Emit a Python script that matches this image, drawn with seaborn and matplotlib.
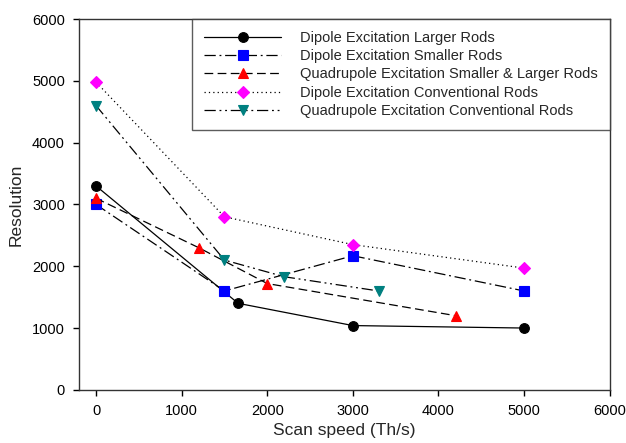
import matplotlib
matplotlib.use("Agg")
import matplotlib.pyplot as plt
import seaborn as sns
import pandas as pd

sns.set_style("ticks")
plt.rcParams['font.family'] = ['Liberation Sans', 'DejaVu Sans']

labels = [
    "Dipole Excitation Larger Rods",
    "Dipole Excitation Smaller Rods",
    "Quadrupole Excitation Smaller & Larger Rods",
    "Dipole Excitation Conventional Rods",
    "Quadrupole Excitation Conventional Rods",
]
x_dip_large = [0, 1660, 3000, 5000]
y_dip_large = [3300, 1400, 1040, 1000]
x_dip_small = [0, 1500, 3000, 5000]
y_dip_small = [3000, 1600, 2170, 1600]
x_quad_sl = [0, 1200, 2000, 4200]
y_quad_sl = [3100, 2300, 1720, 1200]
x_dip_conv = [0, 1500, 3000, 5000]
y_dip_conv = [4980, 2800, 2350, 1970]
x_quad_conv = [0, 1500, 2200, 3300]
y_quad_conv = [4600, 2100, 1830, 1600]

series_x = [x_dip_large, x_dip_small, x_quad_sl, x_dip_conv, x_quad_conv]
series_y = [y_dip_large, y_dip_small, y_quad_sl, y_dip_conv, y_quad_conv]
colors = ["#000000", "#0000FF", "#FF0000", "#FF00FF", "#008080"]
markers = ["o", "s", "^", "D", "v"]
msizes = [7, 6.5, 7, 6, 7]
styles = ["-", (0, (9, 3, 1.5, 3)), (0, (7, 3.5)), (0, (1, 2.5)), (0, (9, 3, 1.5, 3, 1.5, 3))]

fig = plt.figure(figsize=(6.26, 4.43), dpi=100)
ax = fig.add_axes([0.126, 0.12, 0.848, 0.837])

for xs, ys, c, m, ms, ls, lab in zip(series_x, series_y, colors, markers, msizes, styles, labels):
    df = pd.DataFrame({"x": xs, "y": ys})
    sns.lineplot(data=df, x="x", y="y", ax=ax, color="black", linestyle=ls, linewidth=0.9,
                 marker=m, markersize=ms, markerfacecolor=c, markeredgecolor=c,
                 markeredgewidth=0.8, label=lab, sort=False, estimator=None)

ax.set_xlim(-200, 6000)
ax.set_ylim(0, 6000)
ax.set_xticks([0, 1000, 2000, 3000, 4000, 5000, 6000])
ax.set_yticks([0, 1000, 2000, 3000, 4000, 5000, 6000])
ax.tick_params(direction="out", length=4, width=1, labelsize=10.5, colors="black", pad=6)
for s in ax.spines.values():
    s.set_visible(True)
    s.set_color("#333333")
    s.set_linewidth(1)
ax.set_xlabel("Scan speed (Th/s)", fontsize=12.5, labelpad=4)
ax.set_ylabel("Resolution", fontsize=12.5, labelpad=6)

leg = ax.legend(loc="upper right", borderaxespad=0, fontsize=10.5, handlelength=5.3,
                handletextpad=1.3, labelspacing=0.3, frameon=True, fancybox=False,
                borderpad=0.8)
leg.get_frame().set_edgecolor("#333333")
leg.get_frame().set_linewidth(1)

fig.savefig("out.png", dpi=100)
